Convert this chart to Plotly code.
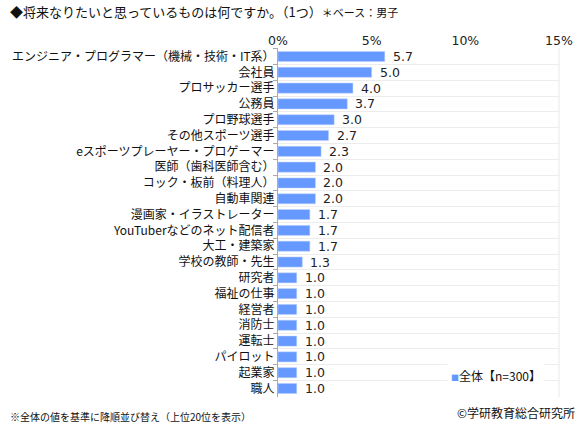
import plotly.graph_objects as go

jobs = [
    "エンジニア・プログラマー（機械・技術・IT系）",
    "会社員",
    "プロサッカー選手",
    "公務員",
    "プロ野球選手",
    "その他スポーツ選手",
    "eスポーツプレーヤー・プロゲーマー",
    "医師（歯科医師含む）",
    "コック・板前（料理人）",
    "自動車関連",
    "漫画家・イラストレーター",
    "YouTuberなどのネット配信者",
    "大工・建築家",
    "学校の教師・先生",
    "研究者",
    "福祉の仕事",
    "経営者",
    "消防士",
    "運転士",
    "パイロット",
    "起業家",
    "職人",
]
shares = [5.7, 5.0, 4.0, 3.7, 3.0, 2.7, 2.3, 2.0, 2.0, 2.0, 1.7, 1.7, 1.7, 1.3,
          1.0, 1.0, 1.0, 1.0, 1.0, 1.0, 1.0, 1.0]
x_ticks = [0, 5, 10, 15]
series_name = "全体【n=300】"

FONT = "Noto Sans CJK JP"
NUMFONT = "DejaVu Sans"
BLUE = "rgb(102,153,255)"
PW, PH = 283, 349  # plot area size in px

fig = go.Figure()
fig.add_trace(go.Bar(
    x=shares, y=jobs, orientation="h",
    name=series_name, showlegend=False,
    marker=dict(color=BLUE, line=dict(color="rgb(190,210,255)", width=0.5)),
    width=0.64,
))

# value labels next to the bars
for v, j in zip(shares, jobs):
    fig.add_annotation(x=v, y=j, text="%.1f" % v, showarrow=False,
                       xanchor="left", xshift=7, borderpad=0,
                       font=dict(family=NUMFONT, size=12.5, color="#222"))

# legend box (small square + name), drawn as a white-backed label
fig.add_annotation(xref="paper", yref="paper", x=(497 - 277) / PW, y=22 / PH,
                   xanchor="center", yanchor="middle", showarrow=False,
                   bgcolor="white", borderpad=3,
                   text="<span style='color:%s;font-size:8px'>■</span>%s" % (BLUE, series_name),
                   font=dict(family=FONT, size=12, color="#111"))

fig.add_annotation(xref="paper", yref="paper", x=-272 / PW, y=1 + 36 / PH,
                   xanchor="left", yanchor="middle", showarrow=False,
                   text="◆将来なりたいと思っているものは何ですか。（1つ）"
                        "<span style='font-size:11px'>＊ベース：男子</span>",
                   font=dict(family=FONT, size=13, color="#111"))
fig.add_annotation(xref="paper", yref="paper", x=-272 / PW, y=-19 / PH,
                   xanchor="left", yanchor="middle", showarrow=False,
                   text="※全体の値を基準に降順並び替え（上位20位を表示）",
                   font=dict(family=FONT, size=10, color="#111"))
fig.add_annotation(xref="paper", yref="paper", x=1 + 18 / PW, y=-16 / PH,
                   xanchor="right", yanchor="middle", showarrow=False,
                   text="©学研教育総合研究所",
                   font=dict(family=FONT, size=12, color="#111"))

# faint right border of the plot area
fig.add_shape(type="line", xref="paper", yref="paper", x0=1, x1=1, y0=0, y1=1,
              line=dict(color="#e8e8e8", width=1))

fig.update_layout(
    width=585, height=430,
    margin=dict(l=277, r=25, t=48, b=33),
    paper_bgcolor="white", plot_bgcolor="white",
    font=dict(family=FONT, size=12, color="#111"),
    showlegend=False,
    xaxis=dict(side="top", range=[0, 15], tickvals=x_ticks,
               ticktext=["%d%%" % t for t in x_ticks],
               showgrid=False, zeroline=False, showline=False, ticks="",
               tickfont=dict(family=NUMFONT, size=12.5, color="#222")),
    yaxis=dict(autorange="reversed", tickson="boundaries", ticks="outside",
               ticklen=4, tickcolor="#aaa", showline=True, linecolor="#aaa",
               showgrid=True, gridcolor="#ececec",
               tickfont=dict(family=FONT, size=12, color="#111")),
)

fig.write_html("out.html", config={"displayModeBar": False},
               post_script="document.body.style.margin='0';")
